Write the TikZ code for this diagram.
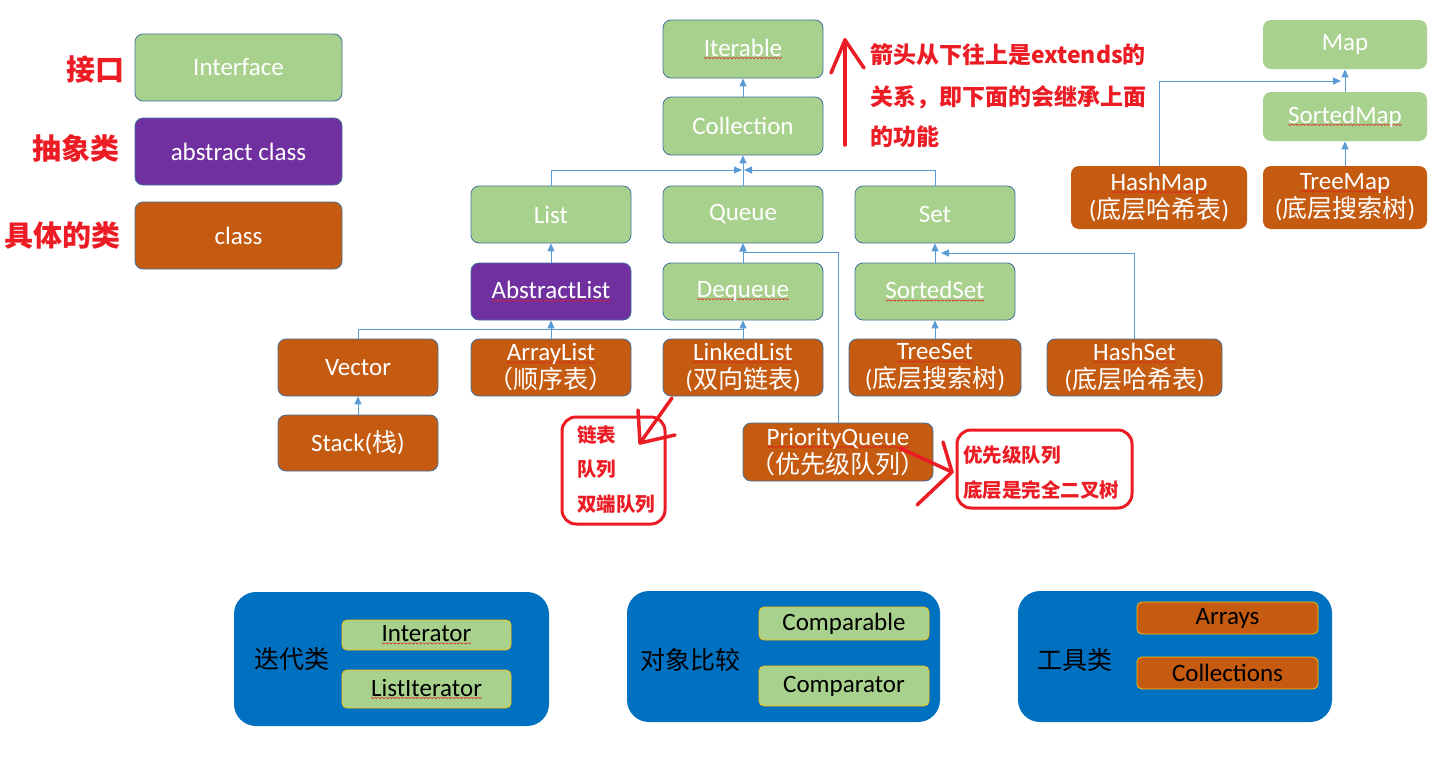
\documentclass[tikz,border=0pt]{standalone}
\usepackage{fontspec}
\setmainfont{Carlito}
\newfontfamily\cjk{Noto Sans CJK SC}
\usetikzlibrary{arrows.meta}
\definecolor{igreen}{HTML}{A9D18E}
\definecolor{apurple}{HTML}{7030A0}
\definecolor{cbrown}{HTML}{C55A11}
\definecolor{bord}{HTML}{41719C}
\definecolor{lblue}{HTML}{5B9BD5}
\definecolor{annred}{HTML}{EC1C24}
\definecolor{pblue}{HTML}{0070C0}
\definecolor{goldb}{HTML}{FFC000}
\definecolor{sqred}{HTML}{E02020}
\newsavebox\wvpiece
\sbox\wvpiece{\tikz[x=1pt,y=1pt]\draw[sqred, line width=0.6pt] (0pt,0pt) -- (1.5pt,-1.3pt) -- (3pt,0pt);}
\newsavebox\wvword
\newcommand\wv[1]{\sbox\wvword{#1}\rlap{\raisebox{-2.6pt}{\hbox to \wd\wvword{\xleaders\copy\wvpiece\hfill}}}\usebox\wvword}
\tikzset{
  wh/.style 2 args={minimum width=#1pt, minimum height=#2pt},
  box/.style={rounded corners=8pt, draw=bord, line width=0.8pt, text=white, align=center, inner sep=0pt, font=\fontsize{25}{28}\selectfont},
  ifc/.style={box, fill=igreen},
  abst/.style={box, fill=apurple},
  cls/.style={box, fill=cbrown},
  nob/.style={draw=none},
  conn/.style={draw=lblue, line width=0.9pt},
  arr/.style={conn, -{Triangle[length=8pt,width=7pt]}},
  redl/.style={draw=annred, line width=3.5pt, line cap=round, line join=round},
  redbox/.style={draw=annred, line width=3pt, rounded corners=14pt, inner sep=0pt},
  redt/.style={text=annred, font=\cjk\bfseries\fontsize{23}{23}\selectfont, inner sep=0pt, anchor=west},
  reds/.style={text=annred, font=\cjk\bfseries\fontsize{19.5}{19.5}\selectfont, inner sep=0pt, anchor=west},
  legt/.style={text=annred, font=\cjk\bfseries\fontsize{29}{29}\selectfont, inner sep=0pt, anchor=east},
  grp/.style={fill=pblue, rounded corners=22pt, draw=none, inner sep=0pt},
  grpt/.style={text=black, font=\cjk\fontsize{25}{25}\selectfont, inner sep=0pt},
  inbox/.style={draw=goldb, line width=0.8pt, rounded corners=5pt, inner sep=0pt, text=black, font=\fontsize{25}{28}\selectfont},
}
\begin{document}
\begin{tikzpicture}[x=1pt,y=-1pt]
\useasboundingbox[fill=white] (0,0) rectangle (1446,774);
% legend
\node[ifc, wh={207}{67}] (lif) at (238.5,67.5) {Interface};
\node[abst, wh={207}{67}] (lab) at (238.5,151.5) {abstract class};
\node[cls, wh={207}{67}] (lcl) at (238.5,235.5) {class};
\node[legt] (t1) at (125,70) {接口};
\node[legt] (t2) at (120,148) {抽象类};
\node[legt] (t3) at (121,236) {具体的类};
% collection hierarchy
\node[ifc, wh={160}{58}] (iterable) at (743,49) {\wv{Iterable}};
\node[ifc, wh={160}{58}] (collection) at (743,126) {Collection};
\node[ifc, wh={160}{57}] (list) at (551,214.5) {List};
\node[ifc, wh={160}{57}] (queue) at (743,214.5) {Queue};
\node[ifc, wh={160}{57}] (set) at (935,214.5) {Set};
\node[abst, wh={160}{57}] (abstractlist) at (551,291.5) {\wv{AbstractList}};
\node[ifc, wh={160}{57}] (dequeue) at (743,291.5) {\wv{Dequeue}};
\node[ifc, wh={160}{57}] (sortedset) at (935,291.5) {\wv{SortedSet}};
\node[cls, wh={160}{57}] (vector) at (358,367.5) {Vector};
\node[cls, wh={160}{57}] (arraylist) at (551,367.5) {\wv{ArrayList}\\{\cjk （顺序表）}};
\node[cls, wh={160}{57}] (linkedlist) at (743,367.5) {\wv{LinkedList}\\({\cjk 双向链表})};
\node[cls, wh={172}{57}] (treeset) at (935,367.5) {\wv{TreeSet}\\({\cjk 底层搜索树})};
\node[cls, wh={175}{57}] (hashset) at (1134.5,367.5) {\wv{HashSet}\\({\cjk 底层哈希表})};
\node[cls, wh={160}{56}] (stack) at (358,443) {Stack({\cjk 栈})};
\node[cls, wh={190}{58}] (pq) at (838,452) {\wv{PriorityQueue}\\{\cjk （优先级队列）}};
% map hierarchy
\node[ifc, nob, wh={164}{49}] (map) at (1345,44.5) {Map};
\node[ifc, nob, wh={164}{49}] (sortedmap) at (1345,116.5) {\wv{SortedMap}};
\node[cls, nob, wh={176}{63}] (hashmap) at (1159,197.5) {\wv{HashMap}\\({\cjk 底层哈希表})};
\node[cls, nob, wh={164}{63}] (treemap) at (1345,197.5) {\wv{TreeMap}\\({\cjk 底层搜索树})};
% connectors
\coordinate (jc) at (743,170);
\coordinate (jl) at (551,329);
\coordinate (jd) at (743,329);
\coordinate (jq) at (743,252);
\coordinate (jh) at (941,253);
\coordinate (jm) at (1341,81);
\draw[arr] (collection.north) -- (iterable.south);
\draw[arr] (queue.north) -- (collection.south);
\draw[arr] (list.north) |- ([xshift=-1pt]jc);
\draw[arr] (set.north) |- ([xshift=1pt]jc);
\draw[arr] (abstractlist.north) -- (list.south);
\draw[arr] (dequeue.north) -- (queue.south);
\draw[arr] (sortedset.north) -- (set.south);
\draw[conn] (vector.north) |- (jd) -- (linkedlist.north);
\draw[conn] (arraylist.north) -- (jl);
\draw[arr] (jl) -- (abstractlist.south);
\draw[arr] (jd) -- (dequeue.south);
\draw[arr] (treeset.north) -- (sortedset.south);
\draw[arr] (hashset.north) |- (jh);
\draw[arr] (pq.north) |- (jq) -- (queue.south);
\draw[arr] (stack.north) -- (vector.south);
\draw[arr] (treemap.north) -- (sortedmap.south);
\draw[arr] (sortedmap.north) -- (map.south);
\draw[arr] (hashmap.north) |- (jm);
% red annotations
\coordinate (ra0) at (845,145);
\coordinate (ra1) at (845,40);
\coordinate (ra2) at (831,73);
\coordinate (ra3) at (864,68);
\draw[redl] (ra0) -- (ra1);
\draw[redl] (ra2) -- (ra1) -- (ra3);
\node[redt] (n1) at (870,55) {箭头从下往上是extends的};
\node[redt] (n2) at (870,97) {关系，即下面的会继承上面};
\node[redt] (n3) at (870,137) {的功能};
\node[redbox, wh={103}{107}] (llnote) at (613.5,470.5) {};
\node[reds] (l1) at (577,435) {链表};
\node[reds] (l2) at (577,469) {队列};
\node[reds] (l3) at (577,504) {双端队列};
\coordinate (la0) at (672,398);
\coordinate (la1) at (640,443);
\coordinate (la2) at (638,410);
\coordinate (la3) at (675,435);
\draw[redl] (la0) -- (la1);
\draw[redl] (la2) -- (la1) -- (la3);
\node[redbox, wh={175}{78}] (pqnote) at (1044.5,469) {};
\node[reds] (p1) at (963,455) {优先级队列};
\node[reds] (p2) at (963,490) {底层是完全二叉树};
\coordinate (pa0) at (900,448);
\coordinate (pa1) at (952,472);
\coordinate (pa2) at (943,442);
\coordinate (pa3) at (917,505);
\draw[redl] (pa0) -- (pa1);
\draw[redl] (pa2) -- (pa1) -- (pa3);
% bottom groups
\node[grp, wh={315}{134}] (g1) at (391.5,659) {};
\node[grpt] (g1t) at (292,659) {迭代类};
\node[inbox, ifc, draw=goldb, text=black, rounded corners=5pt, line width=0.8pt, wh={169}{30}] (interator) at (426.5,635) {\wv{Interator}};
\node[inbox, ifc, draw=goldb, text=black, rounded corners=5pt, line width=0.8pt, wh={169}{38}] (listiterator) at (426.5,689) {\wv{ListIterator}};
\node[grp, wh={313}{131}] (g2) at (783.5,656.5) {};
\node[grpt] (g2t) at (690,660) {对象比较};
\node[inbox, ifc, draw=goldb, text=black, rounded corners=5pt, line width=0.8pt, wh={170}{33}] (comparable) at (844,623.5) {Comparable};
\node[inbox, ifc, draw=goldb, text=black, rounded corners=5pt, line width=0.8pt, wh={170}{40}] (comparator) at (844,686) {Comparator};
\node[grp, wh={314}{131}] (g3) at (1175,656.5) {};
\node[grpt] (g3t) at (1075,660) {工具类};
\node[inbox, cls, draw=goldb, text=black, rounded corners=5pt, line width=0.8pt, wh={181}{32}] (arrays) at (1227.5,618) {Arrays};
\node[inbox, cls, draw=goldb, text=black, rounded corners=5pt, line width=0.8pt, wh={181}{32}] (collections) at (1227.5,673) {Collections};
\end{tikzpicture}
\end{document}
